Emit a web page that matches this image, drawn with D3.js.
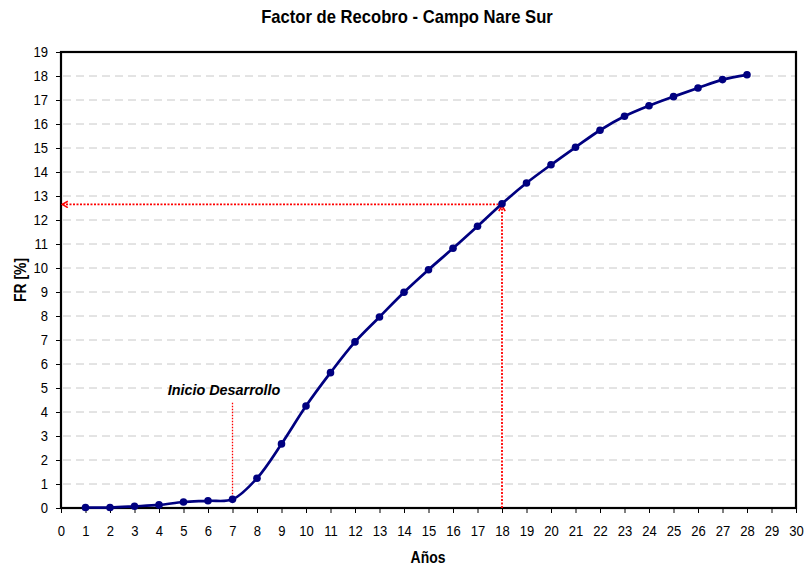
<!DOCTYPE html>
<html lang="es">
<head>
  <meta charset="UTF-8">
  <title>Factor de Recobro - Campo Nare Sur</title>
  <script src="https://d3js.org/d3.v7.min.js"></script>
  <style>
    body { margin: 0; background: #fff; }
    text { font-family: Arial, "Liberation Sans", sans-serif; }
  </style>
</head>
<body>
  <script>
    // datos
    const years = [1, 2, 3, 4, 5, 6, 7, 8, 9, 10, 11, 12, 13, 14, 15, 16, 17, 18, 19, 20, 21, 22, 23, 24, 25, 26, 27, 28];
    const fr = [0.02, 0.02, 0.07, 0.13, 0.25, 0.30, 0.36, 1.24, 2.67, 4.25, 5.64, 6.92, 7.96, 8.99, 9.93, 10.82, 11.74, 12.68,
      13.54, 14.30, 15.03, 15.74, 16.32, 16.76, 17.14, 17.50, 17.85, 18.05];
    const xTicks = d3.range(0, 31);
    const yTicks = d3.range(0, 20);
    const startYear = 7;
    const readYear = 18;
    const readFR = 12.65;

    const w = 805;
    const h = 567;
    const margin = { top: 52, right: 9, bottom: 59, left: 61 };
    const sx = 0.87; // the original text is a bit narrow

    const xScale = d3.scaleLinear()
      .domain([0, 30])
      .range([margin.left, w - margin.right]);

    const yScale = d3.scaleLinear()
      .domain([0, 19])
      .range([h - margin.bottom, margin.top]);

    const svg = d3.select('body')
      .append('svg')
      .attr('width', w)
      .attr('height', h);

    svg.append('defs')
      .append('marker')
      .attr('id', 'arrow')
      .attr('viewBox', '0 0 10 10')
      .attr('refX', 9)
      .attr('refY', 5)
      .attr('markerUnits', 'userSpaceOnUse')
      .attr('markerWidth', 8)
      .attr('markerHeight', 8)
      .attr('orient', 'auto')
      .append('path')
      .attr('d', 'M2,1 L9,5 L2,9')
      .attr('fill', 'none')
      .attr('stroke', 'red')
      .attr('stroke-width', 2);

    // grid
    svg.append('g')
      .selectAll('line')
      .data(yTicks.filter(d => d > 0 && d < 19))
      .enter()
      .append('line')
      .attr('x1', xScale(0) + 2)
      .attr('x2', xScale(30))
      .attr('y1', d => yScale(d))
      .attr('y2', d => yScale(d))
      .attr('stroke', '#c8c8c8')
      .attr('stroke-width', 1)
      .attr('stroke-dasharray', '8,5');

    // axes
    const xAxis = svg.append('g')
      .attr('transform', `translate(0,${yScale(0)})`)
      .call(d3.axisBottom(xScale).tickValues(xTicks).tickSize(5).tickSizeOuter(0).tickPadding(12));

    const yAxis = svg.append('g')
      .attr('transform', `translate(${xScale(0)},0)`)
      .call(d3.axisLeft(yScale).tickValues(yTicks).tickSize(5).tickSizeOuter(0));

    [xAxis, yAxis].forEach(g => {
      g.select('.domain').remove();
      g.selectAll('text')
        .attr('font-size', 15)
        .attr('fill', '#000')
        .attr('font-family', 'Arial, "Liberation Sans", sans-serif')
        .attr('transform', `scale(${sx},1)`);
      g.selectAll('line').attr('stroke', '#000');
    });
    yAxis.selectAll('text').attr('x', -13 / sx);

    // frame
    svg.append('rect')
      .attr('x', xScale(0))
      .attr('y', yScale(19))
      .attr('width', xScale(30) - xScale(0))
      .attr('height', yScale(0) - yScale(19))
      .attr('fill', 'none')
      .attr('stroke', '#000')
      .attr('stroke-width', 2.2);

    // annotation lines
    svg.append('line')
      .attr('x1', xScale(startYear))
      .attr('x2', xScale(startYear))
      .attr('y1', yScale(0.45))
      .attr('y2', yScale(4.4))
      .attr('stroke', 'red')
      .attr('stroke-width', 1.3)
      .attr('stroke-dasharray', '1.5,1.5');

    svg.append('line')
      .attr('x1', xScale(readYear))
      .attr('x2', xScale(readYear))
      .attr('y1', yScale(0))
      .attr('y2', yScale(readFR - 0.05))
      .attr('stroke', 'red')
      .attr('stroke-width', 1.8)
      .attr('stroke-dasharray', '2,1.5')
      .attr('marker-end', 'url(#arrow)');

    svg.append('line')
      .attr('x1', xScale(readYear))
      .attr('x2', xScale(0.05))
      .attr('y1', yScale(readFR))
      .attr('y2', yScale(readFR))
      .attr('stroke', 'red')
      .attr('stroke-width', 1.8)
      .attr('stroke-dasharray', '2,1.5')
      .attr('marker-end', 'url(#arrow)');

    // series
    const pts = years.map((y, i) => [y, fr[i]]);
    const line = d3.line()
      .x(d => xScale(d[0]))
      .y(d => yScale(d[1]))
      .curve(d3.curveCatmullRom.alpha(0.5));

    svg.append('path')
      .datum(pts)
      .attr('d', line)
      .attr('fill', 'none')
      .attr('stroke', '#000080')
      .attr('stroke-width', 2.7);

    svg.selectAll('circle')
      .data(pts)
      .enter()
      .append('circle')
      .attr('cx', d => xScale(d[0]))
      .attr('cy', d => yScale(d[1]))
      .attr('r', 3.8)
      .attr('fill', '#000080');

    // texts
    svg.append('text')
      .attr('transform', 'translate(407,23) scale(0.95,1)')
      .attr('text-anchor', 'middle')
      .attr('font-size', 17.5)
      .attr('font-weight', 'bold')
      .text('Factor de Recobro - Campo Nare Sur');

    svg.append('text')
      .attr('transform', 'translate(224,395) scale(0.96,1)')
      .attr('text-anchor', 'middle')
      .attr('font-size', 15)
      .attr('font-weight', 'bold')
      .attr('font-style', 'italic')
      .text('Inicio Desarrollo');

    svg.append('text')
      .attr('transform', `translate(428,563) scale(${sx},1)`)
      .attr('text-anchor', 'middle')
      .attr('font-size', 16)
      .attr('font-weight', 'bold')
      .text('Años');

    svg.append('text')
      .attr('transform', `translate(25.5,${(yScale(0) + yScale(19)) / 2}) rotate(-90) scale(${sx},1)`)
      .attr('text-anchor', 'middle')
      .attr('font-size', 16)
      .attr('font-weight', 'bold')
      .text('FR [%]');
  </script>
</body>
</html>
